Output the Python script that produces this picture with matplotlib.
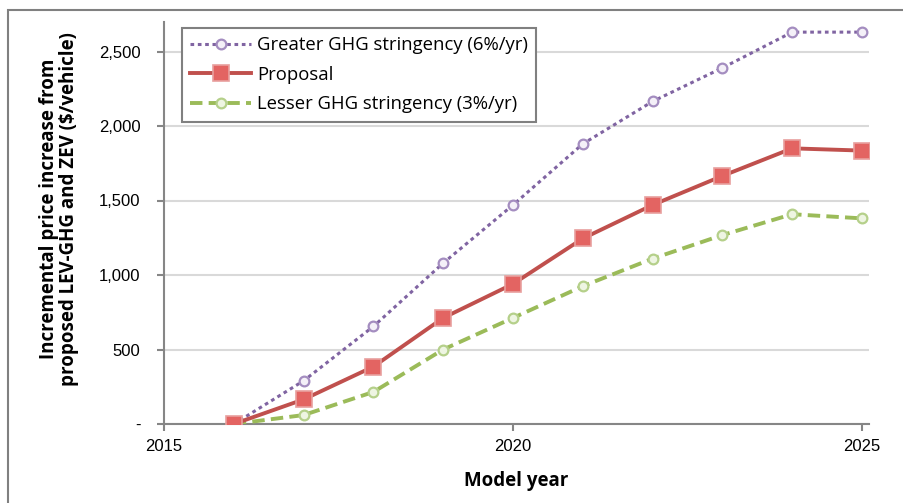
import matplotlib
matplotlib.use("Agg")
import matplotlib.pyplot as plt
from matplotlib.patches import Rectangle
from matplotlib.ticker import FuncFormatter

years = [2016, 2017, 2018, 2019, 2020, 2021, 2022, 2023, 2024, 2025]
greater = [0, 290, 655, 1080, 1470, 1880, 2165, 2390, 2630, 2630]
proposal = [0, 165, 385, 712, 940, 1245, 1470, 1665, 1850, 1835]
lesser = [0, 60, 215, 500, 712, 925, 1110, 1268, 1408, 1380]

series_labels = ["Greater GHG stringency (6%/yr)", "Proposal", "Lesser GHG stringency (3%/yr)"]
x_ticks = [2015, 2020, 2025]
y_ticks = [0, 500, 1000, 1500, 2000, 2500]

PURPLE = "#8064A2"
RED = "#C0504D"
GREEN = "#9BBB59"
AXIS_GRAY = "#868686"
GRID_GRAY = "#D9D9D9"

W, H = 904, 503
fig = plt.figure(figsize=(W / 100, H / 100), dpi=100)
fig.patch.set_facecolor("white")

# outer chart frame
fig.add_artist(Rectangle((8 / W, -0.05), 1.2, 1 - 10 / H + 0.05, transform=fig.transFigure,
                         fill=False, edgecolor="#808080", linewidth=1.5))

ax = fig.add_axes([164 / W, 1 - 424 / H, (869 - 164) / W, (424 - 21.7) / H])
ax.set_xlim(2015, 2025.1)
ax.set_ylim(0, 2700)

ax.plot(years, greater, color=PURPLE, linestyle=(0, (1.2, 1.2)), linewidth=2.2,
        marker="o", markersize=7, markerfacecolor="#F4F0F8", markeredgecolor="#A48DC0",
        markeredgewidth=1.6, label=series_labels[0], zorder=3)
ax.plot(years, proposal, color=RED, linestyle="-", linewidth=2.8,
        marker="s", markersize=11, markerfacecolor="#E36462", markeredgecolor="#E8A09E",
        markeredgewidth=1.2, label=series_labels[1], zorder=4)
ax.plot(years, lesser, color=GREEN, linestyle=(0, (3.2, 1.6)), linewidth=2.8,
        marker="o", markersize=7, markerfacecolor="#EEF5E2", markeredgecolor="#B5D08A",
        markeredgewidth=1.6, label=series_labels[2], zorder=3)

ax.set_xticks(x_ticks)
ax.set_yticks(y_ticks)
ax.yaxis.set_major_formatter(FuncFormatter(lambda v, p: "-" if v == 0 else f"{int(v):,}"))
ax.grid(axis="y", color=GRID_GRAY, linewidth=1.5)
ax.set_axisbelow(True)

for side in ["top", "right"]:
    ax.spines[side].set_visible(False)
for side in ["left", "bottom"]:
    ax.spines[side].set_color(AXIS_GRAY)
    ax.spines[side].set_linewidth(1.5)
ax.tick_params(axis="both", direction="out", length=5, width=1.5, color=AXIS_GRAY,
               labelsize=12, labelcolor="black")
ax.tick_params(axis="y", pad=12)
ax.tick_params(axis="x", pad=6)
for t in ax.get_xticklabels() + ax.get_yticklabels():
    t.set_fontfamily("Liberation Sans")

ax.set_xlabel("Model year", fontsize=13.5, fontweight="bold", family="Open Sans", labelpad=12)
ax.set_ylabel("Incremental price increase from\nproposed LEV-GHG and ZEV ($/vehicle)",
              fontsize=13.5, fontweight="bold", family="Open Sans", labelpad=12,
              linespacing=1.05)
ax.yaxis.set_label_coords(-0.12, 0.535)

leg = ax.legend(loc="upper left", bbox_to_anchor=((182 - 164) / (869 - 164), (424 - 28) / (424 - 21.7)),
                prop={"family": "Open Sans", "size": 13.3}, frameon=True, fancybox=False,
                edgecolor="#808080", handlelength=3.3, borderpad=0.45, labelspacing=0.62,
                handletextpad=0.3, borderaxespad=0, framealpha=1)
leg.get_frame().set_linewidth(1.5)

fig.savefig("out.png", dpi=100)
